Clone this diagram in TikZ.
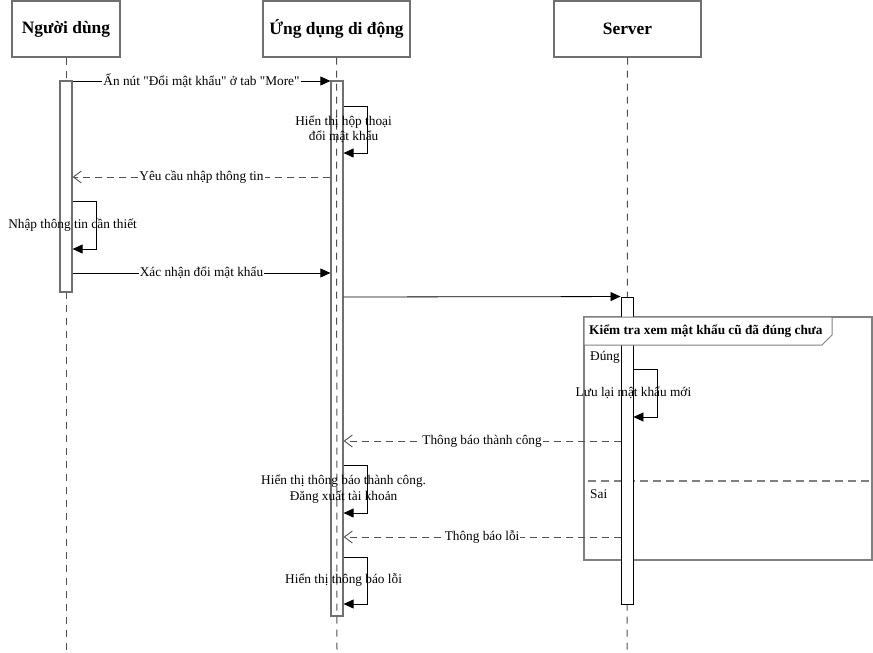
\documentclass[tikz,border=0pt]{standalone}
\usepackage{fontspec}
\setmainfont{Liberation Serif}
\usetikzlibrary{arrows.meta}
\definecolor{boxgray}{HTML}{707070}
\definecolor{linegray}{HTML}{505050}
\definecolor{framegray}{HTML}{808080}
\begin{document}
\begin{tikzpicture}[x=1pt,y=-1pt,
  head/.style={draw=boxgray, line width=1.2pt, minimum height=56pt, inner sep=0pt,
    font=\fontsize{17.4}{20}\selectfont\bfseries},
  lifeline/.style={draw=linegray, line width=1pt, dash pattern=on 7pt off 6pt},
  actbar/.style={draw=boxgray, line width=1.2pt, fill=white, minimum width=12pt, inner sep=0pt},
  actbarb/.style={draw=black, line width=0.9pt, fill=white, minimum width=12pt, inner sep=0pt},
  msg/.style={draw=black, line width=0.8pt, -{Triangle[length=10pt,width=9pt]}},
  ret/.style={draw=linegray, line width=0.9pt, dash pattern=on 7pt off 5pt, -{Straight Barb[length=8pt,width=12pt]}},
  lbl/.style={fill=white, inner sep=1pt, font=\fontsize{13.3}{15.5}\selectfont},
  slbl/.style={inner sep=0pt, align=center, font=\fontsize{13.3}{15.5}\selectfont},
  txt/.style={inner sep=0pt, anchor=west, font=\fontsize{13.3}{15.5}\selectfont}
]
\useasboundingbox (0,0) rectangle (873,653);
% headers
\node[head, minimum width=108pt] (user) at (66,29) {\raisebox{-1.5pt}{Người dùng}};
\node[head, minimum width=147pt] (app) at (336.5,29) {\raisebox{-1.5pt}{Ứng dụng di động}};
\node[head, minimum width=147pt] (srv) at (627.5,29) {\raisebox{-1.5pt}{Server}};
\coordinate (uend) at (66,653);
\coordinate (aend) at (337,653);
\coordinate (send) at (627,653);
% lifelines
\draw[lifeline] (user.south) -- (uend);
\draw[lifeline] (srv.south) -- (send);
% frame body
\draw[draw=framegray, line width=1.2pt] (584,317) rectangle (872,560);
\draw[draw=framegray, line width=1.2pt, dash pattern=on 8pt off 5pt] (588,481) -- (872,481);
% activation bars
\node[actbar, minimum height=211pt] (ubar) at (66,186.5) {};
\node[actbarb, minimum height=307pt] (sbar) at (627,450.5) {};
\node[draw=boxgray, line width=1.2pt, minimum width=12pt, minimum height=535pt, inner sep=0pt] (abar) at (337,348.5) {};
\draw[lifeline] (app.south) -- (aend);
% frame header on top
\draw[draw=framegray, line width=1pt, fill=white] (584,317) -- (832,317) -- (832,335) -- (822,345) -- (584,345) -- cycle;
\node[inner sep=0pt, anchor=west, font=\fontsize{13.3}{15.5}\selectfont\bfseries] (fl) at (589,331) {Kiểm tra xem mật khẩu cũ đã đúng chưa};
\node[txt] (g1) at (590,357) {Đúng};
\node[txt] (g2) at (590,494) {Sai};
% messages
\draw[msg] (ubar.east |- 0,81) -- (abar.west |- 0,81) node[midway, lbl] {Ấn nút \textquotedbl Đổi mật khẩu\textquotedbl{} ở tab \textquotedbl More\textquotedbl};
\draw[msg] (abar.east |- 0,106) -- ++(24,0) |- (abar.east |- 0,153);
\node[slbl] (l2) at (abar.east |- 0,129.5) {Hiển thị hộp thoại\\đổi mật khẩu};
\draw[ret] (abar.west |- 0,177) -- (ubar.east |- 0,177) node[midway, lbl] {Yêu cầu nhập thông tin};
\draw[msg] (ubar.east |- 0,201) -- ++(24,0) |- (ubar.east |- 0,249);
\node[slbl] (l4) at (ubar.east |- 0,225) {Nhập thông tin cần thiết};
\draw[msg] (ubar.east |- 0,273) -- (abar.west |- 0,273) node[midway, lbl] {Xác nhận đổi mật khẩu};
\draw[msg] (abar.east |- 0,297) -- (sbar.north west);
\draw[msg] (sbar.east |- 0,369) -- ++(24,0) |- (sbar.east |- 0,417);
\node[slbl] (l8) at (sbar.east |- 0,393) {Lưu lại mật khẩu mới};
\draw[ret] (sbar.west |- 0,441) -- (abar.east |- 0,441) node[midway, lbl] {Thông báo thành công};
\draw[msg] (abar.east |- 0,465) -- ++(24,0) |- (abar.east |- 0,513);
\node[slbl] (l10) at (abar.east |- 0,489) {Hiển thị thông báo thành công.\\Đăng xuất tài khoản};
\draw[ret] (sbar.west |- 0,537) -- (abar.east |- 0,537) node[midway, lbl] {Thông báo lỗi};
\draw[msg] (abar.east |- 0,557) -- ++(24,0) |- (abar.east |- 0,604);
\node[slbl] (l12) at (abar.east |- 0,580) {Hiển thị thông báo lỗi};
\end{tikzpicture}
\end{document}
